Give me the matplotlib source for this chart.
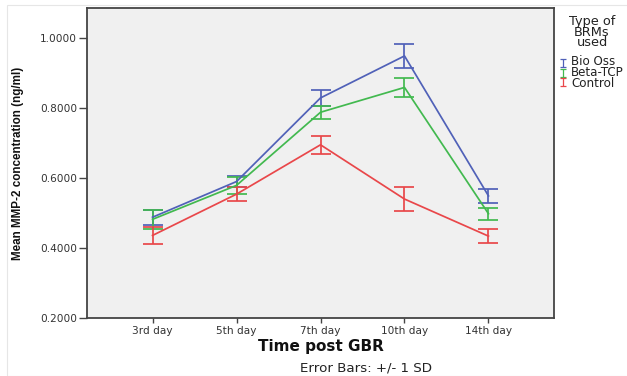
import matplotlib
matplotlib.use("Agg")
import matplotlib.pyplot as plt
from matplotlib.lines import Line2D
from matplotlib.path import Path
import numpy as np

days = ["3rd day", "5th day", "7th day", "10th day", "14th day"]
series_names = ["Bio Oss", "Beta-TCP", "Control"]
bio_oss_mean = [0.488, 0.590, 0.829, 0.949, 0.549]
bio_oss_sd = [0.022, 0.015, 0.024, 0.035, 0.020]
beta_tcp_mean = [0.482, 0.579, 0.788, 0.859, 0.498]
beta_tcp_sd = [0.027, 0.025, 0.019, 0.028, 0.017]
control_mean = [0.436, 0.554, 0.695, 0.540, 0.434]
control_sd = [0.025, 0.019, 0.026, 0.033, 0.019]
yticks = [0.2, 0.4, 0.6, 0.8, 1.0]

colors = ["#5061b8", "#42b94f", "#e9474a"]
txt = "#333333"

plt.rcParams['font.family'] = ['DejaVu Sans']

fig = plt.figure(figsize=(6.27, 3.76), dpi=100)
fig.patch.set_facecolor("white")
ax = fig.add_axes([87/627, 1-318/376, (554-87)/627, (318-8)/376])
ax.set_facecolor("#f0f0f0")

x = np.arange(len(days))
means = [bio_oss_mean, beta_tcp_mean, control_mean]
sds = [bio_oss_sd, beta_tcp_sd, control_sd]
for m, s, c in zip(means, sds, colors):
    ax.errorbar(x, m, yerr=s, color=c, lw=1.25, elinewidth=1.25, capsize=7.5,
                capthick=1.25)

ax.set_xlim(-0.78, 4.78)
ax.set_ylim(0.2, 1.086)
ax.set_yticks(yticks)
ax.set_yticklabels([f"{v:.4f}" for v in yticks])
ax.set_xticks(x)
ax.set_xticklabels(days)
ax.tick_params(axis='y', direction='out', length=6, width=1, colors="#444444",
               labelsize=7.6, labelcolor=txt, pad=1)
ax.tick_params(axis='x', direction='out', length=3.5, width=1, colors="#444444",
               labelsize=7.6, labelcolor=txt, pad=2)
for sp in ax.spines.values():
    sp.set_color("#444444")
    sp.set_linewidth(1.3)

fig.text(321/627, 1-347/376, "Time post GBR", fontsize=11, fontweight='bold',
         ha='center', va='center', color="#111111")
fig.text(18/627, 1-163/376, "Mean MMP-2 concentration (ng/ml)", fontsize=8.4,
         fontweight='bold', family=['Liberation Sans', 'DejaVu Sans'], rotation=90,
         ha='center', va='center', color="#111111")

fig.text(366/627, 1-368/376, "Error Bars: +/- 1 SD", fontsize=9.6, ha='center',
         va='center', color="#222222")

# legend
fig.text(592/627, 1-32/376, "Type of\nBRMs\nused", fontsize=9.3, ha='center',
         va='center', multialignment='center', linespacing=0.78, color="#222222")
fig.text(571/627, 1-72.5/376, "\n".join(series_names), fontsize=8.6, ha='left',
         va='center', linespacing=0.8, color="#222222")
ibar = Path([(-0.8, 1), (0.8, 1), (0, 1), (0, -1), (-0.8, -1), (0.8, -1)],
            [Path.MOVETO, Path.LINETO, Path.MOVETO, Path.LINETO, Path.MOVETO, Path.LINETO])
for i, c in enumerate(colors):
    yy = 1-(63+9.5*i)/376
    fig.add_artist(Line2D([562.5/627], [yy], transform=fig.transFigure, marker=ibar,
                          markersize=5.5, markeredgewidth=0.9, color=c, linestyle='none',
                          markerfacecolor='none'))

# faint outer frame
fig.add_artist(plt.Rectangle((7/627, 0), 1, 1-5/376, transform=fig.transFigure,
                             fill=False, ec="#e6e6e6", lw=0.8))

fig.savefig("out.png", dpi=100)
